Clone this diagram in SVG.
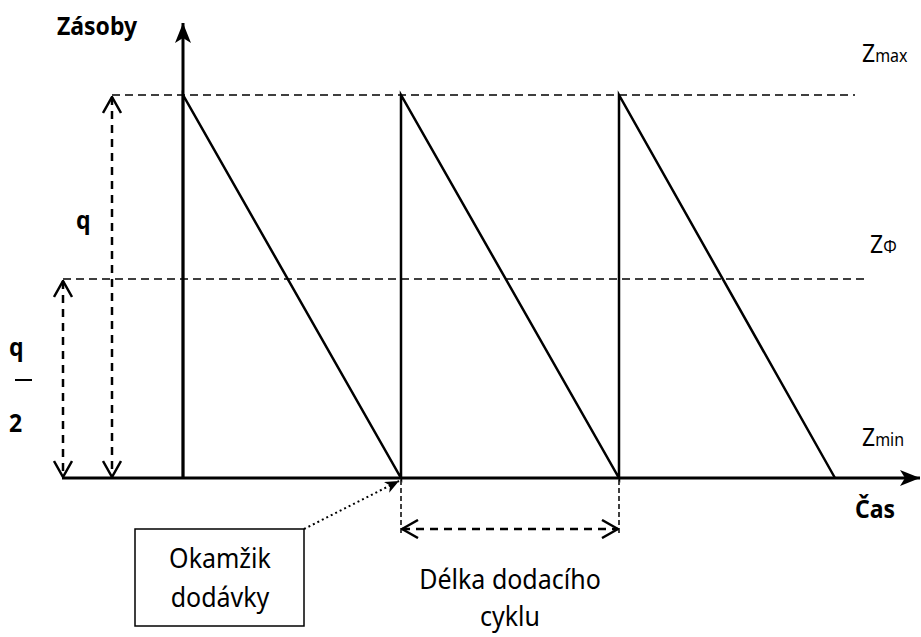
<svg xmlns="http://www.w3.org/2000/svg" width="921" height="637" viewBox="0 0 921 637">
<defs>
<style>
.t{font-family:"Noto Sans","Liberation Sans",sans-serif;fill:#000}
.b{font-weight:bold}
.ax{stroke:#000;stroke-width:3;fill:none}
.saw{stroke:#000;stroke-width:2.5;fill:none}
.lvl{stroke:#000;stroke-width:1.6;stroke-dasharray:8 5;fill:none}
.dim{stroke:#000;stroke-width:2.5;stroke-dasharray:8 6;fill:none}
.thin{stroke:#000;stroke-width:1.5;stroke-dasharray:5 3;fill:none}
.dot{stroke:#000;stroke-width:2;stroke-dasharray:2 3;fill:none}
</style>
<marker id="stealth" viewBox="0 0 20 16" refX="20" refY="8" markerWidth="20" markerHeight="16" markerUnits="userSpaceOnUse" orient="auto">
<path d="M0,0 L20,8 L0,16 L5,8 Z" fill="#000"/>
</marker>
<marker id="vee" viewBox="0 0 18 20" refX="17" refY="10" markerWidth="18" markerHeight="20" markerUnits="userSpaceOnUse" orient="auto-start-reverse">
<path d="M1,1 L17,10 L1,19" fill="none" stroke="#000" stroke-width="2.5"/>
</marker>
<marker id="small" viewBox="0 0 14 12" refX="14" refY="6" markerWidth="14" markerHeight="12" markerUnits="userSpaceOnUse" orient="auto">
<path d="M0,0 L14,6 L0,12 L4,6 Z" fill="#000"/>
</marker>
</defs>
<rect width="921" height="637" fill="#fff"/>

<g id="levels">
<line class="lvl" x1="112" y1="95" x2="855" y2="95"/>
<line class="lvl" x1="63" y1="279" x2="865" y2="279"/>
</g>

<g id="axes">
<line class="ax" x1="183" y1="478" x2="183" y2="23" marker-end="url(#stealth)"/>
<line class="ax" x1="62" y1="478" x2="920" y2="478" marker-end="url(#stealth)"/>
</g>

<g id="sawtooth">
<path class="saw" d="M183,478 L183,95 L401,478 L401,95 L619,478 L619,95 L835,478"/>
</g>

<g id="connectors">
<line class="dim" x1="112" y1="97" x2="112" y2="477" marker-start="url(#vee)" marker-end="url(#vee)"/>
<line class="dim" x1="63" y1="281" x2="63" y2="477" marker-start="url(#vee)" marker-end="url(#vee)"/>
<line class="thin" x1="401" y1="480" x2="401" y2="535"/>
<line class="thin" x1="619" y1="480" x2="619" y2="535"/>
<line class="dim" x1="402" y1="529" x2="618" y2="529" marker-start="url(#vee)" marker-end="url(#vee)"/>
<line class="dot" x1="304" y1="529" x2="399" y2="481" marker-end="url(#small)"/>
</g>

<g id="label-zasoby"><text class="t b" font-size="23" transform="translate(57,35) scale(1,1.12)">Zásoby</text></g>
<g id="label-cas"><text class="t b" font-size="23" transform="translate(855,518) scale(1,1.12)">Čas</text></g>
<g id="label-zmax"><text class="t" font-size="23" transform="translate(862,62) scale(1,1.12)">Z<tspan font-size="16">max</tspan></text></g>
<g id="label-zphi"><text class="t" font-size="23" transform="translate(870,253) scale(1,1.12)">Z<tspan font-size="16">Φ</tspan></text></g>
<g id="label-zmin"><text class="t" font-size="23" transform="translate(862,446) scale(1,1.12)">Z<tspan font-size="16">min</tspan></text></g>
<g id="label-q"><text class="t b" font-size="23" transform="translate(76,229) scale(1,1.12)">q</text></g>
<g id="label-q2">
<text class="t b" font-size="23" transform="translate(9,356) scale(1,1.12)">q</text>
<line x1="15" y1="380" x2="32" y2="380" stroke="#000" stroke-width="2"/>
<text class="t b" font-size="23" transform="translate(9,432) scale(1,1.12)">2</text>
</g>

<g id="okamzik">
<rect x="135" y="529" width="169" height="97" fill="#fff" stroke="#000" stroke-width="1.5"/>
<text class="t" font-size="25" text-anchor="middle" transform="translate(220,568) scale(1,1.12)">Okamžik</text>
<text class="t" font-size="25" text-anchor="middle" transform="translate(220,607) scale(1,1.12)">dodávky</text>
</g>

<g id="delka">
<text class="t" font-size="25" text-anchor="middle" transform="translate(510,589) scale(1,1.12)">Délka dodacího</text>
<text class="t" font-size="25" text-anchor="middle" transform="translate(510,626) scale(1,1.12)">cyklu</text>
</g>
</svg>
